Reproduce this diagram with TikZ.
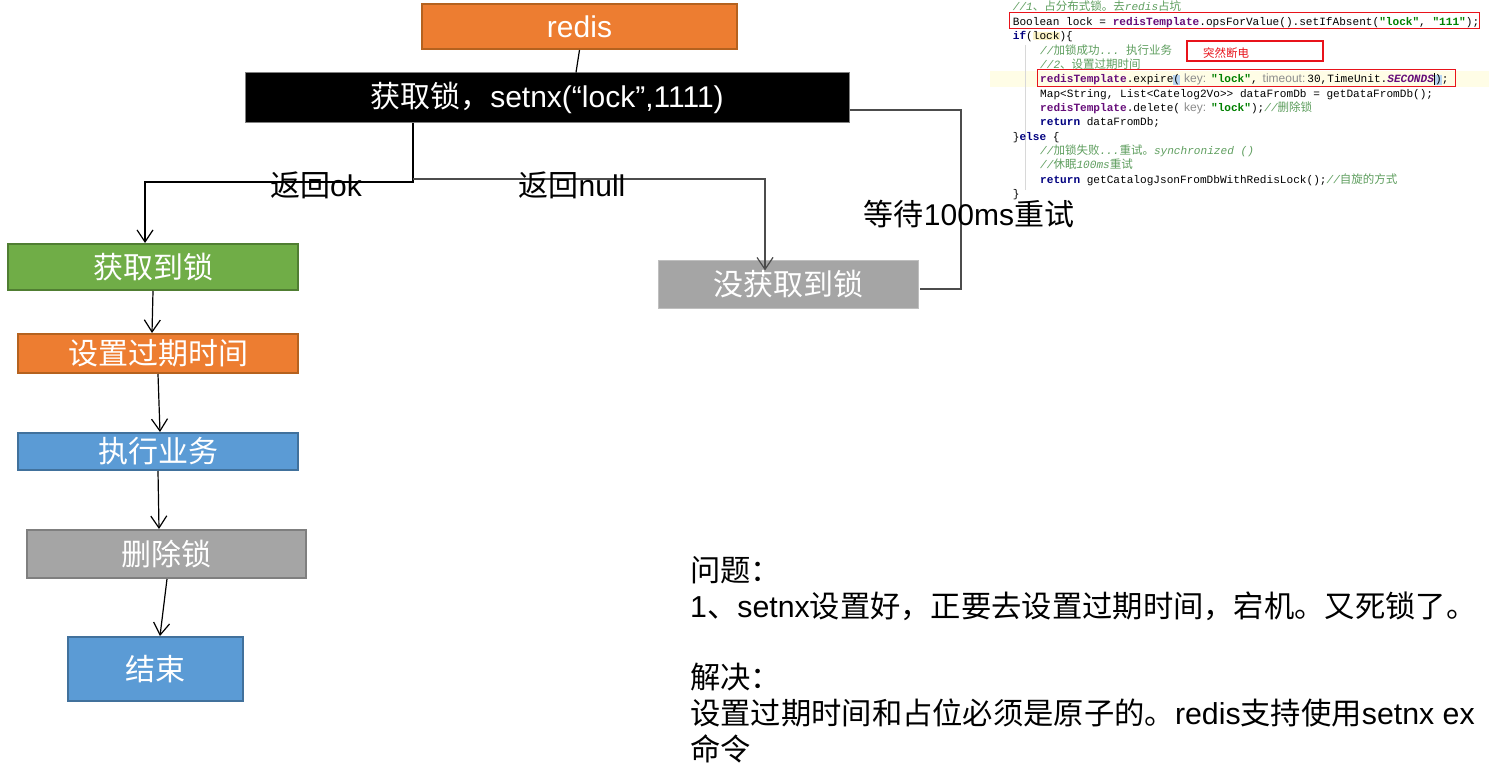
\documentclass[tikz,border=0pt]{standalone}
\usepackage{fontspec}
\setmainfont{Liberation Sans}
\setmonofont{Liberation Mono}
\newfontfamily\cjk{Noto Sans CJK SC}
\usetikzlibrary{arrows.meta}
\definecolor{orangef}{HTML}{ED7D31}
\definecolor{oranged}{HTML}{B5621F}
\definecolor{greenf}{HTML}{70AD47}
\definecolor{greend}{HTML}{507E32}
\definecolor{bluef}{HTML}{5B9BD5}
\definecolor{blued}{HTML}{41719C}
\definecolor{grayf}{HTML}{A5A5A5}
\definecolor{grayd}{HTML}{7F7F7F}
\definecolor{kwc}{HTML}{000080}
\definecolor{rtc}{HTML}{660E7A}
\definecolor{strc}{HTML}{008000}
\definecolor{cmc}{HTML}{5E9E5E}
\definecolor{hintc}{HTML}{8C8C8C}
\definecolor{curline}{HTML}{FFFDE6}
\definecolor{hlyel}{HTML}{FBF3C8}
\definecolor{hlblue}{HTML}{B9D6F2}
\definecolor{redbox}{HTML}{E8131B}
\definecolor{guide}{HTML}{D8D8D8}
\newcommand\zh[1]{{\cjk #1}}
\newcommand\zhc[1]{{\cjk\fontsize{11.5}{13}\selectfont #1}}
\newcommand\kwd[1]{{\color{kwc}\bfseries #1}}
\newcommand\rtp[1]{{\color{rtc}\bfseries #1}}
\newcommand\strg[1]{{\color{strc}\bfseries #1}}
\newcommand\cmt[1]{{\color{cmc}\itshape #1}}
\newcommand\hnt[1]{{\rmfamily\fontsize{12}{13}\selectfont\color{hintc}#1}}
\newcommand\hlbox[2]{{\fboxsep=0pt\colorbox{#1}{#2}}}
\begin{document}
\begin{tikzpicture}[x=1pt,y=-1pt,
  box/.style={inner sep=0pt, text=white, line width=2pt,
    font=\fontsize{30}{36}\selectfont},
  lbl/.style={inner sep=0pt, text=black, font=\fontsize{30}{36}\selectfont},
  para/.style={inner sep=0pt, anchor=base west, text=black, font=\fontsize{30.3}{36}\selectfont},
  codeln/.style={inner sep=0pt, anchor=base west, font=\ttfamily\fontsize{11.1}{13}\selectfont},
  arr/.style={draw=black, line width=1.2pt, -{Straight Barb[length=12pt,width=16pt,line width=1.2pt]}},
  grayln/.style={draw=black!70, line width=1.3pt}
]
\useasboundingbox (0,0) rectangle (1489,770);
\fill[white] (0,0) rectangle (1489,770);

% ---------- flowchart boxes ----------
\node[box, fill=orangef, draw=oranged, minimum width=315pt, minimum height=45pt] (redis) at (579.5,26.5) {redis};
\node[box, fill=black, draw=black!50, line width=1pt, minimum width=604pt, minimum height=50pt] (lockbox) at (547,98) {\zh{获取锁，}setnx(“lock”,1111)};
\node[box, fill=greenf, draw=greend, minimum width=290pt, minimum height=46pt] (got) at (153,267) {\zh{获取到锁}};
\node[box, fill=orangef, draw=oranged, minimum width=280pt, minimum height=39pt] (setexp) at (158,353.5) {\zh{设置过期时间}};
\node[box, fill=bluef, draw=blued, minimum width=280pt, minimum height=37pt] (exec) at (158,451.5) {\zh{执行业务}};
\node[box, fill=grayf, draw=grayd, minimum width=279pt, minimum height=48pt] (del) at (166.5,554) {\zh{删除锁}};
\node[box, fill=bluef, draw=blued, minimum width=175pt, minimum height=64pt] (endn) at (155.5,669) {\zh{结束}};
\node[box, fill=grayf, draw=black!25, line width=1pt, minimum width=260pt, minimum height=47pt] (notgot) at (788,284.5) {\zh{没获取到锁}};

% ---------- connectors ----------
\draw[line width=1.2pt] (redis.south) -- ([xshift=29pt]lockbox.north);
\coordinate (okfork) at (413,179);
\draw[arr] ([xshift=-134pt]lockbox.south) -- (413,182) -| ([xshift=-8pt]got.north);
\draw[arr, draw=black!70] (okfork) -| ([xshift=-23pt,yshift=-10pt]notgot.north);
\coordinate (loopr) at (961,110);
\draw[grayln] ([yshift=-12pt]lockbox.east) -- (loopr) |- ([xshift=1pt,yshift=-4.5pt]notgot.east);
\draw[arr] (got.south) -- ([xshift=-6pt]setexp.north);
\draw[arr] (setexp.south) -- ([xshift=2pt]exec.north);
\draw[arr] (exec.south) -- ([xshift=-7.5pt]del.north);
\draw[arr] ([xshift=0.5pt]del.south) -- ([xshift=4.5pt]endn.north);

% ---------- labels ----------
\node[lbl] (lok) at (316,185) {\zh{返回}ok};
\node[lbl] (lnull) at (572,185) {\zh{返回}null};
\node[lbl] (lwait) at (969,214) {\zh{等待}100ms\zh{重试}};

% ---------- bottom right text ----------
\node[para] (q1) at (690,581) {\zh{问题：}};
\node[para] (q2) at (690,617) {1\zh{、}setnx\zh{设置好，正要去设置过期时间，宕机。又死锁了。}};
\node[para] (q3) at (690,688) {\zh{解决：}};
\node[para] (q4) at (690,724) {\zh{设置过期时间和占位必须是原子的。}redis\zh{支持使用}setnx ex};
\node[para] (q5) at (690,760) {\zh{命令}};

% ---------- code screenshot ----------
\fill[curline] (990,71) rectangle (1489,87);
\draw[guide, line width=0.8pt] (1025,45) -- (1025,190);
\node[codeln] (c1) at (1012.7,11) {\cmt{//1\zhc{、占分布式锁。去}redis\zhc{占坑}}};
\node[codeln] (c2) at (1012.7,25.5) {Boolean lock = \rtp{redisTemplate}.opsForValue().setIfAbsent(\strg{"lock"}, \strg{"111"});};
\node[codeln] (c3) at (1012.7,40) {\kwd{if}(\hlbox{hlyel}{lock})\{};
\node[codeln] (c4) at (1040,54.3) {\cmt{//\zhc{加锁成功}... \zhc{执行业务}}};
\node[codeln] (c5) at (1040,68.6) {\cmt{//2\zhc{、设置过期时间}}};
\node[codeln] (c6) at (1040,83) {\rtp{redisTemplate}.expire\hlbox{hlblue}{(}\hnt{\hspace{4pt}key:\hspace{5pt}}\strg{"lock"},\hnt{\hspace{5pt}timeout:\hspace{2pt}}30,TimeUnit.{\color{rtc}\bfseries\itshape SECONDS}{\color{black}\rule[-2pt]{1.2pt}{11.5pt}}\hlbox{hlblue}{)};};
\node[codeln] (c7) at (1040,97.3) {Map<String, List<Catelog2Vo>> dataFromDb = getDataFromDb();};
\node[codeln] (c8) at (1040,111.6) {\rtp{redisTemplate}.delete(\hnt{\hspace{4pt}key:\hspace{5pt}}\strg{"lock"});\cmt{//\zhc{删除锁}}};
\node[codeln] (c9) at (1040,126) {\kwd{return} dataFromDb;};
\node[codeln] (c10) at (1012.7,140.3) {\}\kwd{else} \{};
\node[codeln] (c11) at (1040,154.6) {\cmt{//\zhc{加锁失败}...\zhc{重试。}synchronized ()}};
\node[codeln] (c12) at (1040,169) {\cmt{//\zhc{休眠}100ms\zhc{重试}}};
\node[codeln] (c13) at (1040,183.3) {\kwd{return} getCatalogJsonFromDbWithRedisLock();\cmt{//\zhc{自旋的方式}}};
\node[codeln] (c14) at (1012.7,197.6) {\}};
\draw[redbox, line width=1pt] (1009,13) rectangle (1479,29);
\draw[redbox, line width=1pt] (1037,70) rectangle (1455,87);
\node[draw=redbox, line width=2.2pt, minimum width=136pt, minimum height=20pt, inner sep=0pt] (cut) at (1255,51) {};
\node[inner sep=0pt, anchor=west, text=redbox] (cuttxt) at (1203,53) {\zhc{突然断电}};
\end{tikzpicture}
\end{document}
